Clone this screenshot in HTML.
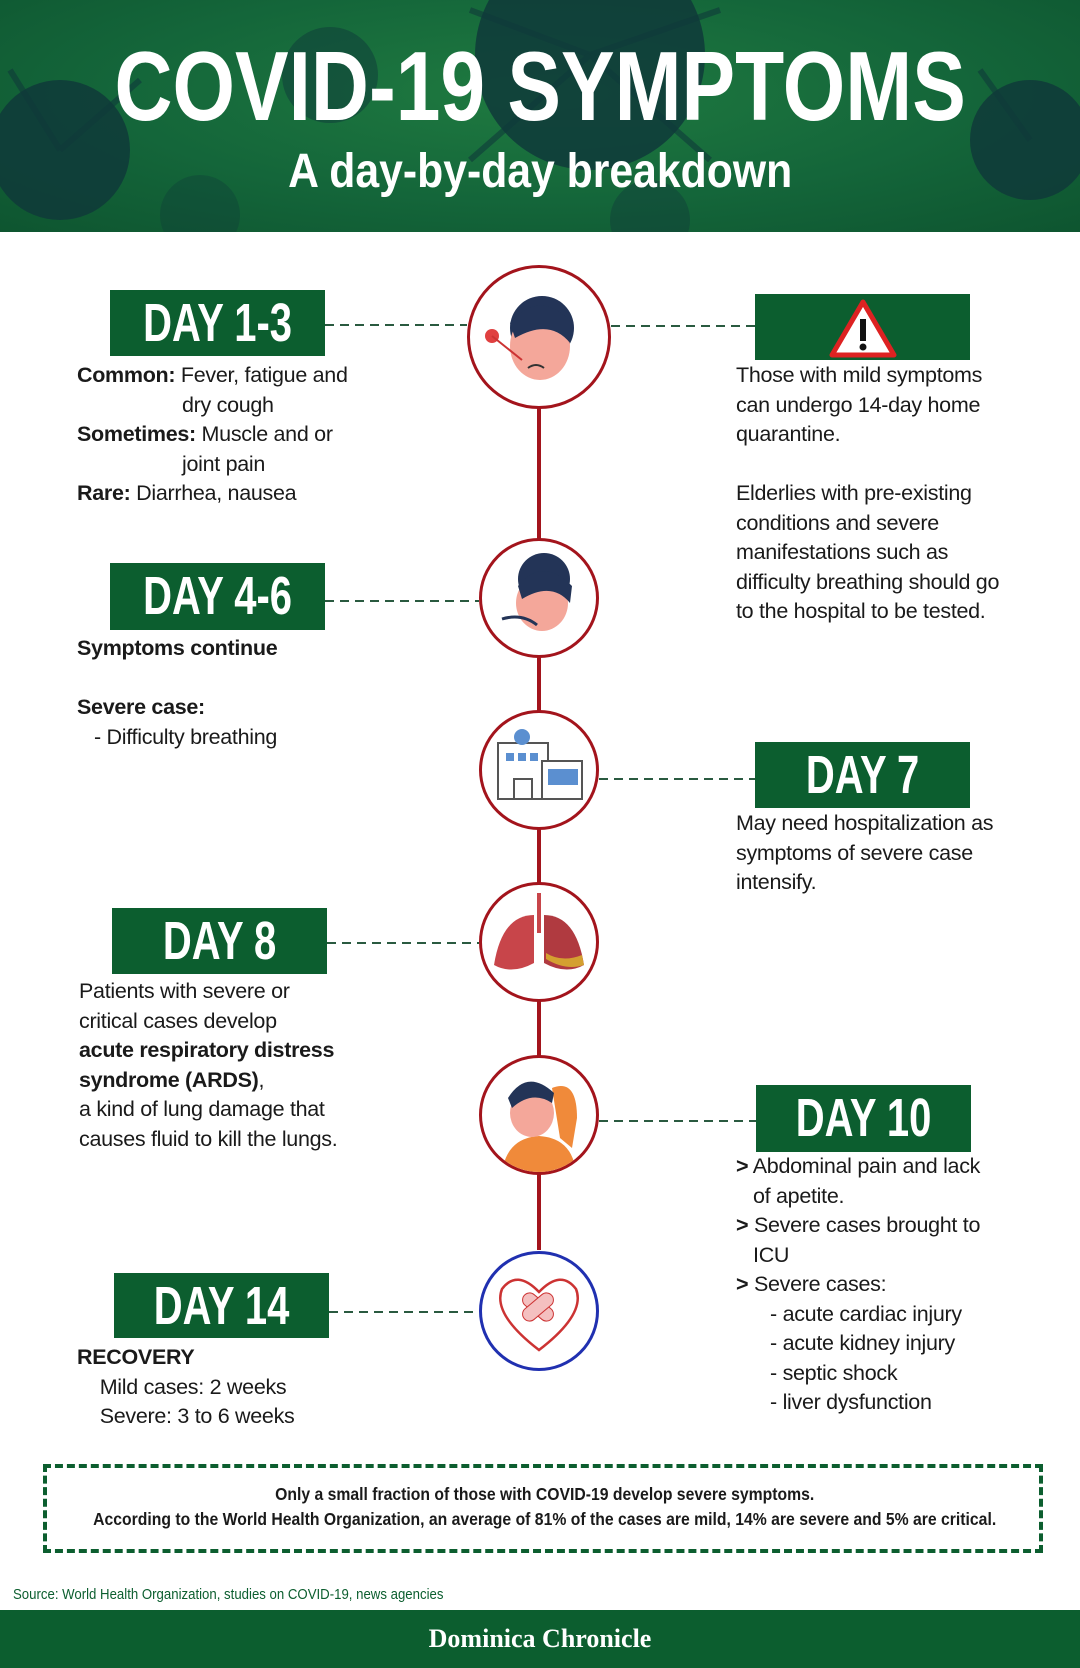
<!DOCTYPE html>
<html><head><meta charset="utf-8"><style>
*{margin:0;padding:0;box-sizing:border-box}
body{width:1080px;height:1668px;position:relative;background:#fff;font-family:"Liberation Sans",sans-serif;color:#1a1a1a;overflow:hidden}
.abs{position:absolute}
.hdr{left:0;top:0;width:1080px;height:232px;background:radial-gradient(ellipse at 50% 40%,#1f7a40 0%,#14663a 55%,#0e5530 100%);overflow:hidden}
.ttl{left:0;width:1080px;text-align:center;color:#fff;font-weight:bold;white-space:nowrap}
.ttl span{display:inline-block}
.box{background:#0c5e2f;color:#fff;font-weight:bold;text-align:center;white-space:nowrap;overflow:hidden}
.box span{display:inline-block;transform:scaleX(.74);font-size:54px;line-height:66px}
.dash{height:2px;background:repeating-linear-gradient(90deg,#2a5a40 0 9px,transparent 9px 15px)}
.t{font-size:21.5px;line-height:29.5px;white-space:nowrap;letter-spacing:-0.3px}
.circ{border-radius:50%;border:3px solid #a3141c;background:#fff;overflow:hidden}
</style></head><body>
<div class="abs hdr">
<svg width="1080" height="232" class="abs" style="left:0;top:0">
<g fill="#0f3a3a" opacity=".85">
<circle cx="590" cy="55" r="115"/>
<circle cx="60" cy="150" r="70"/>
<circle cx="1030" cy="140" r="60"/>
<circle cx="330" cy="75" r="48" opacity=".6"/>
<circle cx="200" cy="215" r="40" opacity=".4"/>
<circle cx="650" cy="220" r="40" opacity=".5"/>
</g>
<g stroke="#0f3a3a" stroke-width="6" opacity=".6">
<line x1="590" y1="55" x2="470" y2="10"/><line x1="590" y1="55" x2="720" y2="10"/><line x1="590" y1="55" x2="710" y2="160"/><line x1="590" y1="55" x2="470" y2="160"/>
<line x1="60" y1="150" x2="10" y2="70"/><line x1="60" y1="150" x2="140" y2="80"/><line x1="1030" y1="140" x2="980" y2="70"/>
</g>
</svg>
<div class="abs ttl" style="top:36px;font-size:98px;line-height:100px"><span style="transform:scaleX(.82)">COVID-19 SYMPTOMS</span></div>
<div class="abs ttl" style="top:144px;font-size:48px;line-height:56px"><span style="transform:scaleX(.89)">A day-by-day breakdown</span></div>
</div>

<div class="abs" style="left:537px;top:400px;width:4px;height:850px;background:#a3141c"></div>

<div class="abs dash" style="left:325px;top:324px;width:142px"></div>
<div class="abs dash" style="left:611px;top:325px;width:144px"></div>
<div class="abs dash" style="left:325px;top:600px;width:154px"></div>
<div class="abs dash" style="left:599px;top:778px;width:156px"></div>
<div class="abs dash" style="left:327px;top:942px;width:152px"></div>
<div class="abs dash" style="left:599px;top:1120px;width:157px"></div>
<div class="abs dash" style="left:329px;top:1311px;width:150px"></div>

<div class="abs circ" style="left:467px;top:265px;width:144px;height:144px">
<svg width="138" height="138"><circle cx="72" cy="60" r="32" fill="#233457"/><ellipse cx="70" cy="78" rx="30" ry="34" fill="#f4a79a"/><path d="M40 55 Q70 20 102 55 L100 75 Q80 50 45 70Z" fill="#233457"/><circle cx="22" cy="68" r="7" fill="#e04040"/><line x1="22" y1="68" x2="52" y2="92" stroke="#c33" stroke-width="2"/><path d="M58 100 Q66 94 74 100" stroke="#333" fill="none" stroke-width="2"/></svg></div>
<div class="abs circ" style="left:479px;top:538px;width:120px;height:120px">
<svg width="114" height="114"><circle cx="62" cy="38" r="26" fill="#233457"/><ellipse cx="60" cy="62" rx="26" ry="28" fill="#f4a79a"/><path d="M36 45 Q60 15 90 45 L88 62 Q70 40 40 58Z" fill="#233457"/><path d="M20 78 Q40 72 55 84" stroke="#233457" fill="none" stroke-width="3"/></svg></div>
<div class="abs circ" style="left:479px;top:710px;width:120px;height:120px">
<svg width="114" height="114"><rect x="16" y="30" width="50" height="56" fill="#fff" stroke="#555" stroke-width="2"/><rect x="60" y="48" width="40" height="38" fill="#fff" stroke="#555" stroke-width="2"/><circle cx="40" cy="24" r="8" fill="#5b8fd0"/><rect x="24" y="40" width="8" height="8" fill="#5b8fd0"/><rect x="36" y="40" width="8" height="8" fill="#5b8fd0"/><rect x="48" y="40" width="8" height="8" fill="#5b8fd0"/><rect x="66" y="56" width="30" height="16" fill="#5b8fd0"/><rect x="32" y="66" width="18" height="20" fill="#fff" stroke="#555" stroke-width="2"/></svg></div>
<div class="abs circ" style="left:479px;top:882px;width:120px;height:120px">
<svg width="114" height="114"><path d="M52 30 Q20 30 12 80 Q30 90 52 78Z" fill="#c8454a"/><path d="M62 30 Q94 30 102 80 Q84 90 62 78Z" fill="#b03a40"/><path d="M64 74 Q84 86 102 80 L100 70 Q80 78 64 68Z" fill="#d4a030"/><rect x="55" y="8" width="4" height="40" fill="#c8454a"/></svg></div>
<div class="abs circ" style="left:479px;top:1055px;width:120px;height:120px">
<svg width="114" height="114"><path d="M20 114 Q25 80 57 78 Q90 80 94 114Z" fill="#f08a3a"/><path d="M70 30 Q95 20 95 60 L90 90 L78 80Z" fill="#f08a3a"/><ellipse cx="50" cy="55" rx="22" ry="24" fill="#f4a79a"/><path d="M26 40 Q45 10 72 35 L70 45 Q50 32 30 50Z" fill="#233457"/></svg></div>
<div class="abs circ" style="left:479px;top:1251px;width:120px;height:120px;border-color:#2030b0">
<svg width="114" height="114"><path d="M57 96 Q10 60 20 35 Q35 15 57 38 Q79 15 94 35 Q104 60 57 96Z" fill="none" stroke="#c33" stroke-width="2.5"/><rect x="38" y="46" width="36" height="14" rx="7" fill="#f4c0c0" stroke="#c33" transform="rotate(40 56 53)"/><rect x="38" y="46" width="36" height="14" rx="7" fill="#f4c0c0" stroke="#c33" transform="rotate(-40 56 53)"/></svg></div>

<div class="abs box" style="left:110px;top:290px;width:215px;height:66px"><span>DAY 1-3</span></div>
<div class="abs box" style="left:755px;top:294px;width:215px;height:66px">
<svg width="70" height="62" style="margin-top:3px"><polygon points="35,5 66,58 4,58" fill="#fff" stroke="#d22" stroke-width="5" stroke-linejoin="round"/><rect x="32" y="22" width="6" height="22" fill="#111"/><circle cx="35" cy="50" r="3.5" fill="#111"/></svg></div>
<div class="abs box" style="left:110px;top:563px;width:215px;height:67px"><span>DAY 4-6</span></div>
<div class="abs box" style="left:755px;top:742px;width:215px;height:66px"><span>DAY 7</span></div>
<div class="abs box" style="left:112px;top:908px;width:215px;height:66px"><span>DAY 8</span></div>
<div class="abs box" style="left:756px;top:1085px;width:215px;height:67px"><span>DAY 10</span></div>
<div class="abs box" style="left:114px;top:1273px;width:215px;height:65px"><span>DAY 14</span></div>

<div class="abs t" style="left:77px;top:361px"><b>Common:</b> Fever, fatigue and<br><span style="padding-left:105px">dry cough</span><br><b>Sometimes:</b> Muscle and or<br><span style="padding-left:105px">joint pain</span><br><b>Rare:</b> Diarrhea, nausea</div>
<div class="abs t" style="left:77px;top:634px"><b>Symptoms continue</b></div>
<div class="abs t" style="left:77px;top:693px"><b>Severe case:</b><br>&nbsp;&nbsp;&nbsp;- Difficulty breathing</div>
<div class="abs t" style="left:79px;top:977px">Patients with severe or<br>critical cases develop<br><b>acute respiratory distress<br>syndrome (ARDS)</b>,<br>a kind of lung damage that<br>causes fluid to kill the lungs.</div>
<div class="abs t" style="left:77px;top:1343px"><b>RECOVERY</b><br>&nbsp;&nbsp;&nbsp;&nbsp;Mild cases: 2 weeks<br>&nbsp;&nbsp;&nbsp;&nbsp;Severe: 3 to 6 weeks</div>

<div class="abs t" style="left:736px;top:361px">Those with mild symptoms<br>can undergo 14-day home<br>quarantine.<br><br>Elderlies with pre-existing<br>conditions and severe<br>manifestations such as<br>difficulty breathing should go<br>to the hospital to be tested.</div>
<div class="abs t" style="left:736px;top:809px">May need hospitalization as<br>symptoms of severe case<br>intensify.</div>
<div class="abs t" style="left:736px;top:1152px"><b>&gt;</b> Abdominal pain and lack<br>&nbsp;&nbsp;&nbsp;of apetite.<br><b>&gt;</b> Severe cases brought to<br>&nbsp;&nbsp;&nbsp;ICU<br><b>&gt;</b> Severe cases:<br>&nbsp;&nbsp;&nbsp;&nbsp;&nbsp;&nbsp;- acute cardiac injury<br>&nbsp;&nbsp;&nbsp;&nbsp;&nbsp;&nbsp;- acute kidney injury<br>&nbsp;&nbsp;&nbsp;&nbsp;&nbsp;&nbsp;- septic shock<br>&nbsp;&nbsp;&nbsp;&nbsp;&nbsp;&nbsp;- liver dysfunction</div>

<div class="abs" style="left:43px;top:1464px;width:1000px;height:89px;border:4px dashed #0c5e2f"></div>
<div class="abs" style="left:43px;top:1482px;width:1000px;text-align:center;font-weight:bold;font-size:17.5px;line-height:25px;white-space:nowrap"><span style="display:inline-block;transform:scaleX(.9)">Only a small fraction of those with COVID-19 develop severe symptoms.<br>According to the World Health Organization, an average of 81% of the cases are mild, 14% are severe and 5% are critical.</span></div>

<div class="abs" style="left:13px;top:1586px;font-size:15px;white-space:nowrap;color:#0c5e2f;transform:scaleX(.88);transform-origin:left">Source: World Health Organization, studies on COVID-19, news agencies</div>

<div class="abs" style="left:0;top:1610px;width:1080px;height:58px;background:#0c5e2f;color:#fff;text-align:center;font-family:'Liberation Serif',serif;font-weight:bold;font-size:26px;line-height:58px">Dominica Chronicle</div>
</body></html>
